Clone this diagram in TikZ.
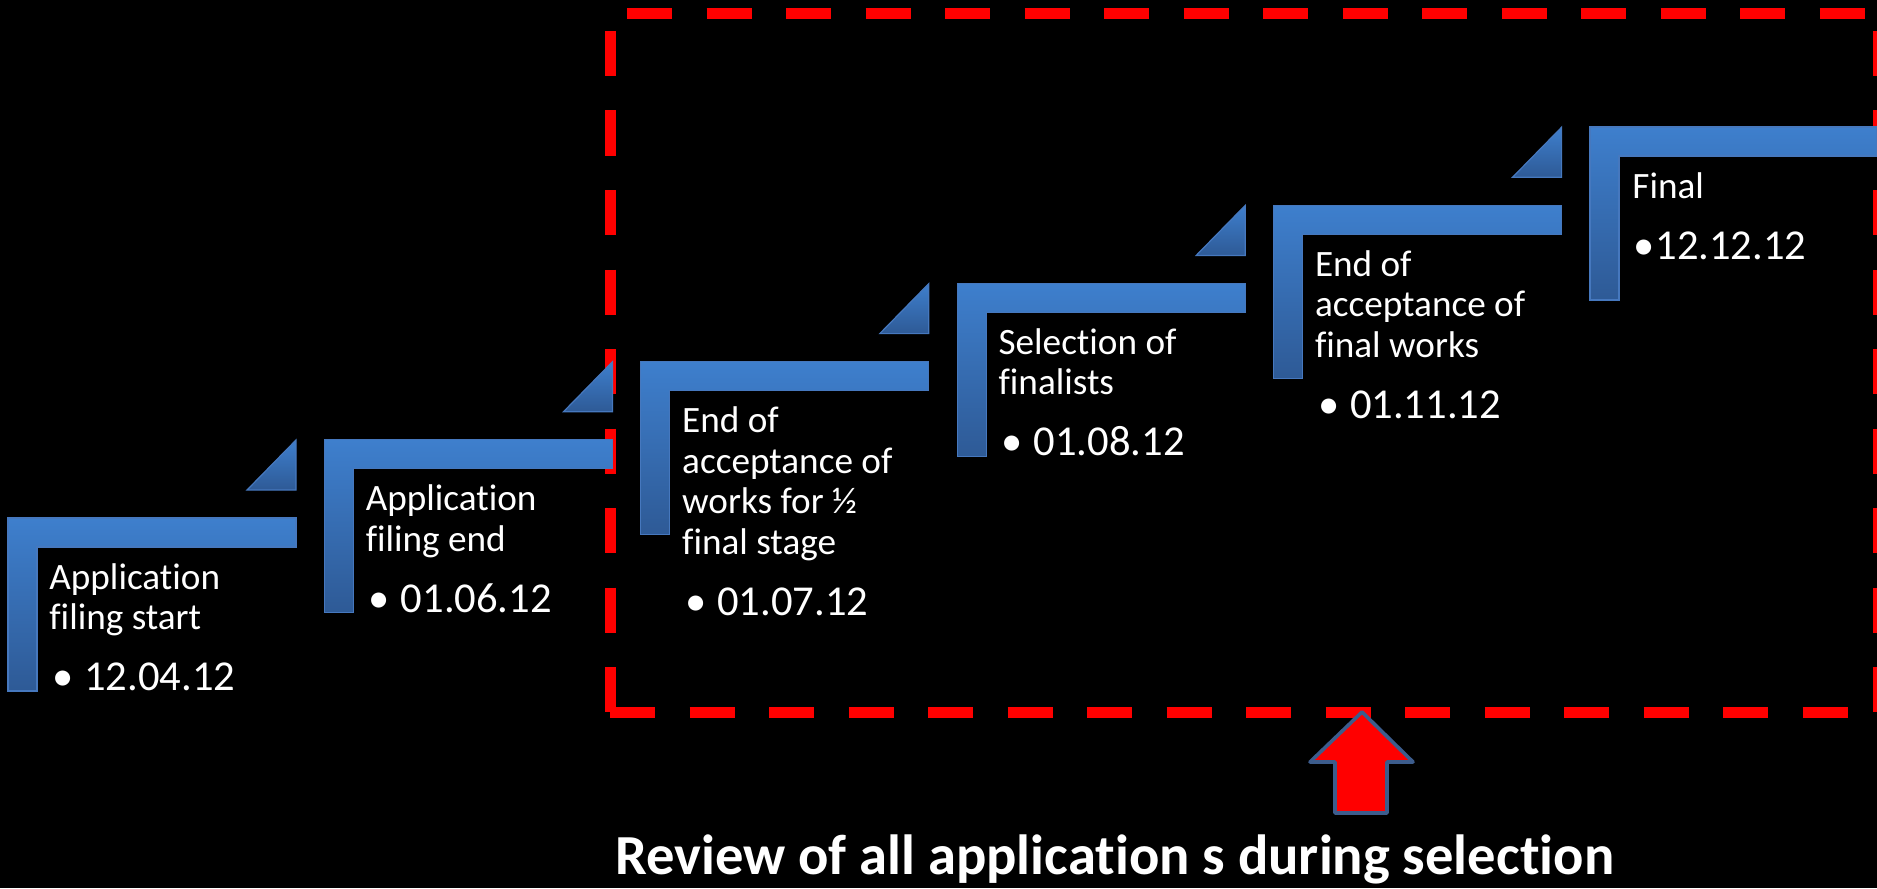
\documentclass[tikz,border=0pt]{standalone}
\usepackage{fontspec}
\setmainfont{Carlito}[Ligatures=NoCommon]
\definecolor{blueA}{RGB}{62,127,205}
\definecolor{blueB}{RGB}{46,90,150}
\definecolor{blueE}{RGB}{70,120,190}
\definecolor{arrowedge}{RGB}{60,92,140}
\begin{document}
\begin{tikzpicture}[x=0.5pt,y=-0.5pt,
  stepshape/.style={top color=blueA, bottom color=blueB, draw=blueE, line width=0.6pt},
  ttl/.style={anchor=base west, inner sep=0pt, text=white, font=\fontsize{18.6}{22}\selectfont},
  num/.style={anchor=base west, inner sep=0pt, text=white, font=\fontsize{21.3}{25}\selectfont},
  redline/.style={draw=red, line width=5.5pt, dash pattern=on 22.5pt off 17.25pt, line cap=butt},
  bigarrow/.style={fill=red, draw=arrowedge, line width=1.8pt, line join=round}]
\fill[black] (0,0) rectangle (1877,888);
\useasboundingbox (0,0) rectangle (1877,888);

% dashed frame
\draw[redline] (627,13.5) -- (1885,13.5);
\draw[redline] (610.5,31) -- (610.5,712);
\draw[redline] (610,712.5) -- (1885,712.5);
\draw[redline] (1878.5,31) -- (1878.5,712);

% step shapes
\foreach \i in {0,...,5}{
  \pgfmathsetmacro{\Lx}{8+316.4*\i}
  \pgfmathsetmacro{\Ty}{518-78.2*\i}
  \pgfmathsetmacro{\Rx}{min(\Lx+288,1877)}
  \path[stepshape] (\Lx,\Ty) -- (\Rx,\Ty) -- (\Rx,\Ty+29) -- (\Lx+29,\Ty+29)
     -- (\Lx+29,\Ty+173) -- (\Lx,\Ty+173) -- cycle;
  \ifnum\i<5
    \path[stepshape] (\Lx+239,\Ty-28) -- (\Lx+288,\Ty-78) -- (\Lx+288,\Ty-28) -- cycle;
  \fi
}

% block 1
\node[ttl] (t1a) at (49,589) {Application};
\node[ttl] (t1b) at (49,629.5) {filing start};
\node[num] (b1) at (52,690.5) {\textbullet};
\node[num] (d1) at (84,690.5) {12.04.12};
% block 2
\node[ttl] (t2a) at (365.4,510.8) {Application};
\node[ttl] (t2b) at (365.4,551.3) {filing end};
\node[num] (b2) at (368.4,612.3) {\textbullet};
\node[num] (d2) at (400.4,612.3) {01.06.12};
% block 3
\node[ttl] (t3a) at (681.8,432.6) {End of};
\node[ttl] (t3b) at (681.8,473.1) {acceptance of};
\node[ttl] (t3c) at (681.8,513.6) {works for ½};
\node[ttl] (t3d) at (681.8,554.1) {final stage};
\node[num] (b3) at (684.8,615.1) {\textbullet};
\node[num] (d3) at (716.8,615.1) {01.07.12};
% block 4
\node[ttl] (t4a) at (998.2,354.4) {Selection of};
\node[ttl] (t4b) at (998.2,394.9) {finalists};
\node[num] (b4) at (1001.2,455.9) {\textbullet};
\node[num] (d4) at (1033.2,455.9) {01.08.12};
% block 5
\node[ttl] (t5a) at (1314.6,276.2) {End of};
\node[ttl] (t5b) at (1314.6,316.7) {acceptance of};
\node[ttl] (t5c) at (1314.6,357.2) {final works};
\node[num] (b5) at (1317.6,418.2) {\textbullet};
\node[num] (d5) at (1349.6,418.2) {01.11.12};
% block 6
\node[ttl] (t6a) at (1632,198) {Final};
\node[num] (b6) at (1633,259) {\textbullet};
\node[num] (d6) at (1655,259) {12.12.12};

% up arrow
\path[bigarrow] (1362,712) -- (1413,762) -- (1387,762) -- (1387,813) -- (1335,813) -- (1335,762) -- (1310,762) -- cycle;

% caption
\node[anchor=base west, inner sep=0pt, text=white, font=\fontsize{28.3}{33}\selectfont\bfseries] (cap) at (615,874) {Review of all application s during selection};
\end{tikzpicture}
\end{document}
